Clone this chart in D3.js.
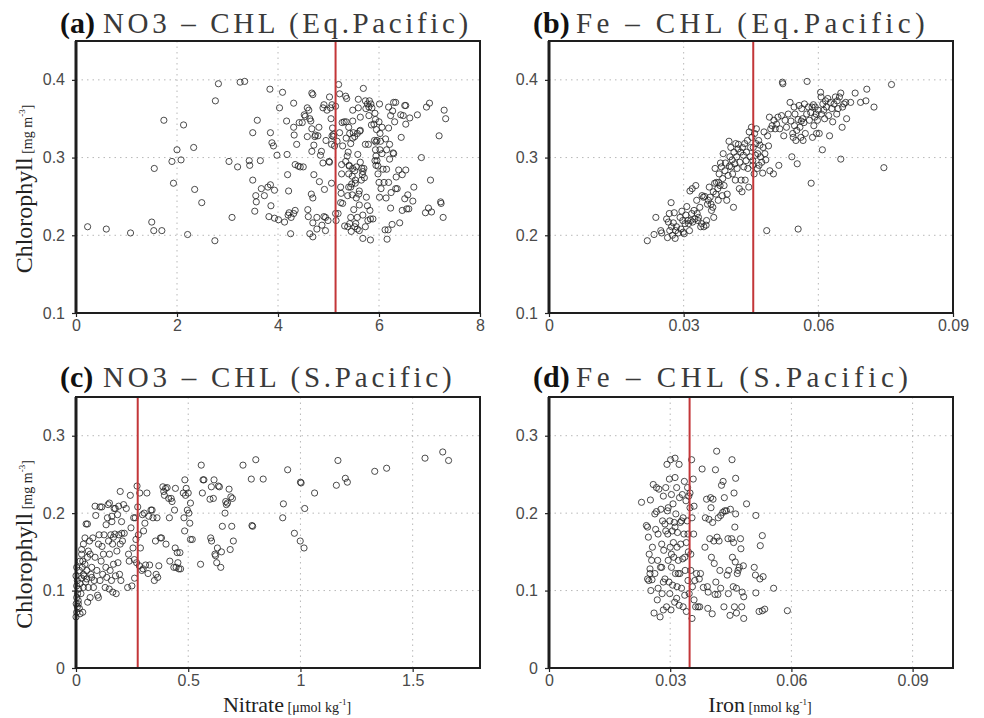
<!DOCTYPE html>
<html>
<head>
<meta charset="utf-8">
<script src="https://cdn.jsdelivr.net/npm/d3@7"></script>
<style>
  body { margin: 0; background: #fff; }
  svg { display: block; }
  .tick text { font-family: "Liberation Sans", sans-serif; font-size: 16px; fill: #4a4a4a; }
  .tick line { stroke: #222; stroke-width: 1.2; }
  .grid { stroke: #b8b8b8; stroke-width: 1; stroke-dasharray: 1.5 4; }
  .dot { fill: none; stroke: #222; stroke-width: 0.95; stroke-opacity: 0.85; }
</style>
</head>
<body>
<svg width="984" height="718"></svg>
<script>
// (a) nitrate vs chlorophyll, equatorial Pacific  [nitrate, chl]
const nitrateEq = [
  [0.23,0.211],[0.6,0.208],[1.08,0.203],[1.5,0.217],[1.54,0.206],[1.7,0.206],[1.55,0.286],[1.74,0.348],
  [1.9,0.295],[1.93,0.267],[2.0,0.31],[2.08,0.297],[2.13,0.342],[2.21,0.201],[2.33,0.313],[2.35,0.259],
  [2.49,0.242],[2.75,0.193],[2.76,0.373],[2.82,0.395],[3.03,0.295],[3.09,0.223],[3.2,0.288],[3.25,0.397],
  [3.34,0.398],[3.43,0.296],[3.44,0.29],[3.5,0.271],[3.5,0.332],[3.54,0.231],[3.56,0.251],[3.57,0.243],
  [3.59,0.348],[3.65,0.296],[3.67,0.26],[3.73,0.251],[3.8,0.262],[3.84,0.388],[3.85,0.332],[3.85,0.265],
  [3.86,0.238],[3.82,0.224],[3.88,0.319],[3.91,0.315],[3.93,0.222],[3.93,0.258],[3.98,0.303],[4.01,0.22],
  [4.03,0.364],[4.09,0.384],[4.13,0.217],[4.17,0.347],[4.18,0.304],[4.19,0.278],[4.21,0.257],[4.2,0.226],
  [4.22,0.229],[4.25,0.202],[4.26,0.223],[4.31,0.37],[4.31,0.339],[4.32,0.329],[4.34,0.291],[4.34,0.232],
  [4.31,0.228],[4.37,0.317],[4.4,0.289],[4.42,0.345],[4.44,0.288],[4.48,0.345],[4.5,0.288],[4.52,0.355],
  [4.54,0.353],[4.58,0.364],[4.59,0.233],[4.58,0.327],[4.6,0.224],[4.61,0.361],[4.63,0.35],[4.63,0.202],
  [4.65,0.347],[4.67,0.383],[4.69,0.381],[4.67,0.337],[4.66,0.253],[4.69,0.248],[4.71,0.316],[4.69,0.216],
  [4.69,0.198],[4.67,0.308],[4.71,0.278],[4.73,0.327],[4.74,0.329],[4.77,0.208],[4.77,0.223],[4.79,0.328],
  [4.81,0.339],[4.84,0.303],[4.82,0.269],[4.86,0.308],[4.87,0.213],[4.89,0.364],[4.89,0.293],[4.91,0.368],
  [4.91,0.224],[4.94,0.223],[4.92,0.259],[4.94,0.206],[4.95,0.322],[4.97,0.361],[4.99,0.219],[5.01,0.295],
  [5.02,0.378],[5.02,0.294],[5.04,0.364],[5.05,0.35],[5.07,0.368],[5.07,0.328],[5.08,0.338],[5.06,0.267],
  [5.06,0.317],[5.1,0.33],[5.1,0.327],[5.12,0.315],[5.14,0.366],[5.14,0.228],[5.15,0.219],[5.17,0.321],
  [5.2,0.394],[5.19,0.228],[5.22,0.382],[5.22,0.332],[5.24,0.262],[5.25,0.254],[5.24,0.242],[5.26,0.291],
  [5.26,0.279],[5.27,0.345],[5.28,0.315],[5.28,0.241],[5.31,0.346],[5.32,0.212],[5.34,0.379],[5.34,0.295],
  [5.35,0.346],[5.35,0.325],[5.36,0.376],[5.37,0.302],[5.38,0.211],[5.38,0.251],[5.39,0.307],[5.4,0.279],
  [5.4,0.339],[5.41,0.29],[5.4,0.262],[5.41,0.289],[5.42,0.215],[5.42,0.331],[5.44,0.262],[5.44,0.318],
  [5.44,0.223],[5.45,0.205],[5.46,0.266],[5.47,0.252],[5.47,0.276],[5.48,0.361],[5.48,0.347],[5.48,0.286],
  [5.49,0.332],[5.48,0.325],[5.5,0.233],[5.52,0.211],[5.52,0.283],[5.52,0.327],[5.53,0.271],[5.53,0.267],
  [5.55,0.288],[5.55,0.248],[5.54,0.215],[5.57,0.331],[5.57,0.223],[5.57,0.208],[5.59,0.375],[5.59,0.364],
  [5.58,0.304],[5.61,0.206],[5.6,0.253],[5.61,0.239],[5.61,0.257],[5.62,0.334],[5.63,0.335],[5.63,0.294],
  [5.63,0.352],[5.65,0.271],[5.66,0.286],[5.67,0.278],[5.68,0.282],[5.68,0.226],[5.68,0.196],[5.69,0.389],
  [5.7,0.286],[5.71,0.274],[5.73,0.373],[5.73,0.317],[5.73,0.211],[5.74,0.363],[5.75,0.249],[5.77,0.369],
  [5.77,0.238],[5.78,0.219],[5.79,0.317],[5.8,0.354],[5.8,0.365],[5.81,0.373],[5.82,0.232],[5.83,0.221],
  [5.83,0.194],[5.84,0.369],[5.85,0.342],[5.86,0.364],[5.88,0.221],[5.9,0.343],[5.91,0.322],[5.92,0.296],
  [5.92,0.357],[5.93,0.31],[5.93,0.349],[5.94,0.32],[5.94,0.29],[5.94,0.302],[5.95,0.336],[5.96,0.296],
  [5.96,0.322],[5.98,0.279],[5.98,0.289],[6.0,0.268],[6.0,0.346],[6.01,0.369],[6.02,0.331],[6.01,0.249],
  [6.02,0.31],[6.03,0.321],[6.04,0.26],[6.06,0.305],[6.06,0.339],[6.08,0.285],[6.1,0.268],[6.12,0.207],
  [6.13,0.324],[6.14,0.248],[6.15,0.31],[6.15,0.285],[6.16,0.195],[6.18,0.207],[6.19,0.365],[6.19,0.338],
  [6.19,0.268],[6.21,0.317],[6.21,0.298],[6.23,0.235],[6.23,0.354],[6.24,0.255],[6.26,0.214],[6.27,0.36],
  [6.28,0.306],[6.29,0.371],[6.29,0.305],[6.31,0.346],[6.33,0.371],[6.33,0.26],[6.34,0.275],[6.36,0.26],
  [6.39,0.284],[6.41,0.216],[6.43,0.355],[6.44,0.326],[6.46,0.278],[6.46,0.232],[6.48,0.354],[6.51,0.247],
  [6.51,0.367],[6.53,0.343],[6.53,0.367],[6.53,0.284],[6.55,0.234],[6.57,0.252],[6.59,0.234],[6.61,0.351],
  [6.67,0.244],[6.69,0.262],[6.76,0.355],[6.84,0.3],[6.92,0.229],[6.94,0.365],[6.98,0.235],[7.0,0.37],
  [7.02,0.271],[7.04,0.23],[7.19,0.328],[7.22,0.243],[7.23,0.241],[7.27,0.223],[7.29,0.361],[7.32,0.35]
];

// (b) iron vs chlorophyll, equatorial Pacific  [iron, chl]
const ironEq = [
  [0.0219,0.193],[0.0234,0.201],[0.0238,0.223],[0.0249,0.206],[0.0251,0.203],[0.0262,0.221],[0.0264,0.197],[0.0266,0.217],
  [0.0268,0.228],[0.0269,0.206],[0.0272,0.242],[0.0273,0.211],[0.0275,0.2],[0.0277,0.216],[0.0279,0.229],[0.0281,0.196],
  [0.0282,0.206],[0.0284,0.211],[0.0288,0.203],[0.0292,0.223],[0.0294,0.208],[0.0296,0.231],[0.0298,0.219],[0.0299,0.204],
  [0.0301,0.202],[0.0303,0.215],[0.0305,0.226],[0.0307,0.237],[0.0309,0.219],[0.0311,0.215],[0.0313,0.206],[0.0314,0.257],
  [0.0316,0.219],[0.0318,0.228],[0.0319,0.26],[0.032,0.217],[0.0323,0.232],[0.0325,0.221],[0.0327,0.264],[0.0329,0.245],
  [0.033,0.228],[0.0332,0.219],[0.0333,0.223],[0.0336,0.236],[0.0338,0.211],[0.034,0.215],[0.0341,0.251],[0.0344,0.249],
  [0.0345,0.211],[0.0347,0.25],[0.035,0.213],[0.0351,0.219],[0.0353,0.24],[0.0355,0.245],[0.0357,0.262],[0.0359,0.249],
  [0.0361,0.24],[0.0362,0.232],[0.0365,0.236],[0.0366,0.256],[0.0367,0.223],[0.0369,0.267],[0.037,0.286],[0.0372,0.253],
  [0.0373,0.268],[0.0376,0.26],[0.0377,0.245],[0.0378,0.268],[0.0379,0.279],[0.0381,0.264],[0.0382,0.293],[0.0384,0.288],
  [0.0386,0.251],[0.0387,0.273],[0.0388,0.305],[0.039,0.264],[0.0392,0.283],[0.0393,0.293],[0.0396,0.245],[0.0397,0.253],
  [0.0399,0.277],[0.0401,0.321],[0.0402,0.289],[0.0403,0.301],[0.0405,0.313],[0.0406,0.288],[0.0408,0.297],[0.0409,0.279],
  [0.0411,0.236],[0.0412,0.307],[0.0414,0.292],[0.0415,0.271],[0.0416,0.318],[0.0418,0.301],[0.0419,0.286],[0.0421,0.311],
  [0.0422,0.317],[0.0424,0.26],[0.0425,0.294],[0.0427,0.307],[0.0428,0.271],[0.043,0.256],[0.0431,0.313],[0.0433,0.303],
  [0.0434,0.288],[0.0436,0.318],[0.0437,0.271],[0.0439,0.296],[0.044,0.307],[0.0442,0.322],[0.0443,0.286],[0.0445,0.262],
  [0.0446,0.333],[0.0448,0.301],[0.0449,0.313],[0.0451,0.339],[0.0452,0.326],[0.0454,0.296],[0.0454,0.29],[0.0455,0.313],
  [0.0457,0.279],[0.0458,0.331],[0.046,0.303],[0.0461,0.318],[0.0462,0.337],[0.0464,0.286],[0.0465,0.305],[0.0467,0.322],
  [0.0468,0.29],[0.047,0.316],[0.0471,0.301],[0.0474,0.294],[0.0476,0.28],[0.0477,0.313],[0.0479,0.333],[0.0481,0.305],
  [0.0483,0.297],[0.0485,0.206],[0.0487,0.328],[0.0489,0.315],[0.0491,0.352],[0.0492,0.283],[0.0494,0.337],[0.0497,0.341],
  [0.05,0.279],[0.0501,0.348],[0.0504,0.337],[0.0507,0.343],[0.051,0.352],[0.0512,0.29],[0.0514,0.337],[0.0518,0.354],
  [0.052,0.397],[0.0521,0.395],[0.0523,0.328],[0.0526,0.348],[0.0529,0.339],[0.0533,0.356],[0.0537,0.371],[0.0539,0.347],
  [0.0541,0.301],[0.0543,0.331],[0.0544,0.326],[0.0546,0.365],[0.0547,0.341],[0.0548,0.356],[0.055,0.322],[0.0552,0.335],
  [0.0553,0.292],[0.0555,0.208],[0.0555,0.349],[0.0557,0.367],[0.0559,0.339],[0.0561,0.326],[0.0562,0.347],[0.0563,0.363],
  [0.0565,0.35],[0.0566,0.322],[0.0568,0.345],[0.0569,0.369],[0.0571,0.331],[0.0574,0.356],[0.0575,0.398],[0.0578,0.365],
  [0.058,0.348],[0.0583,0.358],[0.0584,0.267],[0.0586,0.365],[0.0587,0.326],[0.0589,0.368],[0.059,0.341],[0.0592,0.352],
  [0.0593,0.365],[0.0595,0.356],[0.0596,0.331],[0.0598,0.348],[0.06,0.361],[0.0602,0.331],[0.0605,0.384],[0.0606,0.378],
  [0.0607,0.356],[0.0609,0.31],[0.061,0.369],[0.0612,0.361],[0.0614,0.35],[0.0616,0.373],[0.0618,0.365],[0.0621,0.376],
  [0.0623,0.354],[0.0625,0.328],[0.0627,0.371],[0.063,0.363],[0.0632,0.346],[0.0635,0.369],[0.0638,0.378],[0.0641,0.356],
  [0.0642,0.373],[0.0644,0.363],[0.0647,0.378],[0.065,0.383],[0.065,0.298],[0.0653,0.339],[0.0654,0.365],[0.0657,0.369],
  [0.0661,0.371],[0.0663,0.35],[0.0672,0.371],[0.0682,0.383],[0.0694,0.371],[0.0706,0.373],[0.0708,0.388],[0.0724,0.365],
  [0.0746,0.287],[0.0763,0.394]
];

// (c) nitrate vs chlorophyll, South Pacific  [nitrate, chl]
const nitrateS = [
  [0.0,0.066],[0.003,0.072],[0.006,0.079],[0.001,0.083],[0.01,0.087],[0.003,0.091],[0.007,0.096],[0.015,0.077],
  [0.018,0.07],[0.012,0.102],[0.003,0.106],[0.018,0.109],[0.006,0.113],[0.025,0.116],[0.0,0.119],[0.033,0.121],
  [0.015,0.126],[0.028,0.13],[0.003,0.13],[0.04,0.134],[0.018,0.138],[0.048,0.126],[0.033,0.104],[0.022,0.096],
  [0.01,0.083],[0.03,0.072],[0.025,0.147],[0.051,0.143],[0.045,0.186],[0.051,0.186],[0.055,0.151],[0.06,0.164],
  [0.048,0.115],[0.055,0.104],[0.052,0.085],[0.063,0.091],[0.066,0.121],[0.07,0.13],[0.075,0.168],[0.078,0.104],
  [0.081,0.113],[0.085,0.143],[0.088,0.197],[0.093,0.126],[0.096,0.094],[0.1,0.091],[0.1,0.16],[0.103,0.172],
  [0.107,0.113],[0.112,0.138],[0.115,0.208],[0.116,0.157],[0.119,0.121],[0.122,0.147],[0.125,0.172],[0.13,0.104],
  [0.133,0.13],[0.134,0.185],[0.137,0.117],[0.14,0.194],[0.143,0.211],[0.145,0.164],[0.148,0.102],[0.149,0.147],
  [0.152,0.126],[0.155,0.172],[0.158,0.113],[0.16,0.189],[0.163,0.16],[0.164,0.098],[0.167,0.134],[0.17,0.206],
  [0.173,0.173],[0.176,0.119],[0.179,0.096],[0.182,0.151],[0.185,0.198],[0.187,0.136],[0.19,0.209],[0.191,0.172],
  [0.194,0.121],[0.197,0.228],[0.197,0.16],[0.2,0.113],[0.203,0.189],[0.204,0.174],[0.207,0.164],[0.212,0.211],
  [0.215,0.174],[0.224,0.206],[0.23,0.104],[0.234,0.147],[0.237,0.138],[0.242,0.223],[0.245,0.181],[0.249,0.106],
  [0.254,0.155],[0.257,0.194],[0.26,0.14],[0.261,0.116],[0.264,0.194],[0.267,0.166],[0.27,0.136],[0.272,0.235],
  [0.275,0.208],[0.278,0.172],[0.282,0.132],[0.284,0.226],[0.287,0.155],[0.293,0.126],[0.296,0.198],[0.299,0.128],
  [0.301,0.177],[0.304,0.2],[0.307,0.187],[0.31,0.133],[0.316,0.226],[0.321,0.122],[0.324,0.196],[0.328,0.133],
  [0.334,0.204],[0.339,0.204],[0.343,0.194],[0.349,0.113],[0.354,0.164],[0.357,0.121],[0.361,0.194],[0.364,0.117],
  [0.369,0.132],[0.376,0.168],[0.381,0.168],[0.387,0.234],[0.391,0.228],[0.394,0.223],[0.399,0.232],[0.401,0.16],
  [0.406,0.233],[0.413,0.219],[0.416,0.194],[0.418,0.138],[0.424,0.219],[0.428,0.215],[0.436,0.13],[0.439,0.204],
  [0.442,0.155],[0.443,0.232],[0.446,0.13],[0.451,0.149],[0.454,0.136],[0.458,0.128],[0.463,0.149],[0.466,0.128],
  [0.478,0.226],[0.481,0.194],[0.484,0.177],[0.485,0.243],[0.488,0.223],[0.491,0.232],[0.496,0.204],[0.5,0.226],
  [0.503,0.2],[0.507,0.187],[0.51,0.213],[0.51,0.166],[0.518,0.166],[0.555,0.134],[0.558,0.262],[0.563,0.226],
  [0.566,0.243],[0.57,0.243],[0.597,0.218],[0.6,0.168],[0.603,0.234],[0.604,0.164],[0.612,0.219],[0.615,0.243],
  [0.619,0.147],[0.622,0.145],[0.627,0.136],[0.63,0.155],[0.634,0.235],[0.639,0.234],[0.645,0.13],[0.648,0.15],
  [0.652,0.183],[0.664,0.2],[0.667,0.215],[0.67,0.211],[0.675,0.213],[0.682,0.231],[0.687,0.153],[0.69,0.221],
  [0.694,0.183],[0.697,0.219],[0.701,0.164],[0.744,0.262],[0.781,0.244],[0.784,0.184],[0.787,0.183],[0.801,0.269],
  [0.834,0.244],[0.921,0.194],[0.924,0.212],[0.943,0.256],[0.973,0.174],[0.999,0.164],[1.0,0.24],[1.003,0.239],
  [1.016,0.155],[1.019,0.206],[1.063,0.226],[1.16,0.236],[1.167,0.268],[1.2,0.245],[1.209,0.24],[1.331,0.254],
  [1.384,0.258],[1.555,0.271],[1.634,0.279],[1.66,0.268],
  [0.025,0.153],[0.033,0.16],[0.04,0.168],[0.03,0.138],[0.036,0.119],[0.043,0.111],[0.063,0.147],[0.07,0.117],
  [0.085,0.209],[0.107,0.208],[0.149,0.213],[0.16,0.196],[0.175,0.206],[0.167,0.169]
];

// (d) iron vs chlorophyll, South Pacific  [iron, chl]
const ironS = [
  [0.0229,0.214],[0.0251,0.217],[0.0241,0.184],[0.0244,0.182],[0.0246,0.169],[0.0248,0.147],[0.025,0.128],[0.0244,0.115],
  [0.0247,0.113],[0.0252,0.1],[0.0254,0.139],[0.0256,0.156],[0.0258,0.237],[0.026,0.071],[0.0262,0.122],[0.0264,0.179],
  [0.0266,0.202],[0.0266,0.233],[0.0268,0.088],[0.0269,0.139],[0.027,0.103],[0.0272,0.231],[0.0275,0.066],[0.0276,0.13],
  [0.0277,0.205],[0.0279,0.16],[0.028,0.096],[0.0281,0.19],[0.0283,0.222],[0.0283,0.075],[0.0284,0.152],[0.0287,0.115],
  [0.0289,0.177],[0.0289,0.233],[0.0291,0.079],[0.0292,0.263],[0.0293,0.203],[0.0294,0.173],[0.0295,0.139],[0.0297,0.111],
  [0.0298,0.244],[0.0299,0.19],[0.03,0.156],[0.0301,0.269],[0.0302,0.075],[0.0303,0.224],[0.0303,0.13],[0.0305,0.177],
  [0.0306,0.107],[0.0307,0.212],[0.0308,0.162],[0.0309,0.143],[0.031,0.188],[0.0311,0.085],[0.0312,0.271],[0.0312,0.246],
  [0.0313,0.122],[0.0314,0.199],[0.0316,0.233],[0.0317,0.156],[0.0317,0.105],[0.0318,0.175],[0.032,0.139],[0.0322,0.263],
  [0.0322,0.081],[0.0323,0.22],[0.0324,0.122],[0.0325,0.188],[0.0326,0.16],[0.0328,0.103],[0.033,0.224],[0.0331,0.141],
  [0.0332,0.194],[0.0332,0.079],[0.0334,0.173],[0.0335,0.241],[0.0336,0.094],[0.0337,0.126],[0.0339,0.216],[0.034,0.162],
  [0.034,0.073],[0.0342,0.19],[0.0343,0.233],[0.0344,0.113],[0.0345,0.15],[0.0346,0.222],[0.0347,0.096],[0.0349,0.207],
  [0.0351,0.126],[0.0353,0.269],[0.0354,0.194],[0.0354,0.064],[0.0355,0.105],[0.0357,0.244],[0.0358,0.173],[0.0359,0.209],
  [0.0359,0.088],[0.0361,0.113],[0.0363,0.079],[0.0365,0.122],[0.0369,0.079],[0.0372,0.115],[0.0373,0.079],[0.0375,0.122],
  [0.0379,0.257],[0.0382,0.104],[0.0386,0.156],[0.0387,0.194],[0.039,0.218],[0.0392,0.105],[0.0393,0.077],[0.0394,0.098],
  [0.0396,0.192],[0.0398,0.167],[0.04,0.22],[0.0401,0.207],[0.0402,0.143],[0.0404,0.07],[0.0405,0.188],[0.0406,0.218],
  [0.0408,0.164],[0.0409,0.135],[0.0411,0.095],[0.0412,0.256],[0.0413,0.111],[0.0415,0.28],[0.0416,0.169],[0.0418,0.095],
  [0.0419,0.194],[0.0421,0.164],[0.0423,0.126],[0.0425,0.197],[0.0425,0.103],[0.0427,0.236],[0.043,0.201],[0.0431,0.241],
  [0.0433,0.079],[0.0434,0.22],[0.0435,0.203],[0.0439,0.203],[0.0441,0.12],[0.0443,0.167],[0.0444,0.096],[0.0445,0.126],
  [0.0448,0.068],[0.0449,0.205],[0.0452,0.167],[0.0453,0.269],[0.0454,0.143],[0.0456,0.105],[0.0457,0.162],[0.0458,0.226],
  [0.0459,0.079],[0.046,0.182],[0.0461,0.137],[0.0462,0.245],[0.0462,0.199],[0.0464,0.103],[0.0464,0.071],[0.0466,0.122],
  [0.0468,0.126],[0.0471,0.13],[0.0474,0.167],[0.0475,0.154],[0.0477,0.079],[0.0478,0.098],[0.0481,0.132],[0.0482,0.064],
  [0.0482,0.092],[0.0489,0.212],[0.0508,0.13],[0.0511,0.12],[0.0512,0.097],[0.0512,0.197],[0.0522,0.115],[0.0523,0.158],
  [0.052,0.073],[0.0528,0.171],[0.053,0.118],[0.0528,0.074],[0.0534,0.076],[0.0556,0.103],[0.059,0.074],
  [0.025,0.122],[0.0255,0.114],[0.0262,0.199],[0.027,0.173],[0.0279,0.13],[0.0287,0.186],[0.0295,0.207],[0.0303,0.147],
  [0.0312,0.182],[0.032,0.122],[0.0328,0.19],[0.0336,0.143],[0.0344,0.173],[0.0349,0.226],[0.0351,0.147],[0.0283,0.111],
  [0.0299,0.096],[0.0316,0.09]
];

// threshold lines (red) for panels a-d
const thresholds = [5.14, 0.0455, 0.275, 0.0348];

const xTicksNitrateEq = [0, 2, 4, 6, 8];
const xTicksIron = [0, 0.03, 0.06, 0.09];
const xTicksNitrateS = [0, 0.5, 1, 1.5];
const yTicksEq = [0.1, 0.2, 0.3, 0.4];
const yTicksS = [0, 0.1, 0.2, 0.3];

const panelLetters = ['(a)', '(b)', '(c)', '(d)'];
const panelTitles = ['NO3 – CHL (Eq.Pacific)', 'Fe – CHL (Eq.Pacific)', 'NO3 – CHL (S.Pacific)', 'Fe – CHL (S.Pacific)'];

const svg = d3.select('svg');

const plotWidth = 404;
const cols = [76, 549];
const rows = [{ top: 41, height: 272 }, { top: 397, height: 271 }];

const panels = [
  { points: nitrateEq, xDomain: [0, 8],    yDomain: [0.1, 0.45], xTicks: xTicksNitrateEq, yTicks: yTicksEq, col: 0, row: 0 },
  { points: ironEq,    xDomain: [0, 0.09], yDomain: [0.1, 0.45], xTicks: xTicksIron,      yTicks: yTicksEq, col: 1, row: 0 },
  { points: nitrateS,  xDomain: [0, 1.8],  yDomain: [0, 0.35],   xTicks: xTicksNitrateS,  yTicks: yTicksS,  col: 0, row: 1, xLabel: ['Nitrate', ' [μmol kg', '-1', ']'] },
  { points: ironS,     xDomain: [0, 0.1],  yDomain: [0, 0.35],   xTicks: xTicksIron,      yTicks: yTicksS,  col: 1, row: 1, xLabel: ['Iron', ' [nmol kg', '-1', ']'] }
];

const render = (p, i) => {
  const left = cols[p.col];
  const { top, height } = rows[p.row];

  const xScale = d3.scaleLinear().domain(p.xDomain).range([0, plotWidth]);
  const yScale = d3.scaleLinear().domain(p.yDomain).range([height, 0]);

  const g = svg.append('g').attr('transform', `translate(${left},${top})`);

  // dotted grid
  g.selectAll('.vgrid')
    .data(p.xTicks.filter(d => d > p.xDomain[0] && d < p.xDomain[1]))
    .enter().append('line')
      .attr('class', 'grid')
      .attr('x1', d => xScale(d)).attr('x2', d => xScale(d))
      .attr('y1', 0).attr('y2', height);
  g.selectAll('.hgrid')
    .data(p.yTicks.filter(d => d > p.yDomain[0] && d < p.yDomain[1]))
    .enter().append('line')
      .attr('class', 'grid')
      .attr('x1', 0).attr('x2', plotWidth)
      .attr('y1', d => yScale(d)).attr('y2', d => yScale(d));

  const yAxis = d3.axisLeft(yScale)
    .tickValues(p.yTicks)
    .tickFormat(d => String(d))
    .tickSize(4)
    .tickPadding(7);
  const yAxisG = g.append('g').call(yAxis);
  yAxisG.select('.domain').remove();

  const xAxis = d3.axisBottom(xScale)
    .tickValues(p.xTicks)
    .tickFormat(d => String(d))
    .tickSize(4)
    .tickPadding(3);
  const xAxisG = g.append('g').call(xAxis)
    .attr('transform', `translate(0,${height})`);
  xAxisG.select('.domain').remove();

  g.selectAll('.dot').data(p.points)
    .enter().append('circle')
      .attr('class', 'dot')
      .attr('cx', d => xScale(d[0]))
      .attr('cy', d => yScale(d[1]))
      .attr('r', 3.1);

  g.append('line')
    .attr('x1', xScale(thresholds[i])).attr('x2', xScale(thresholds[i]))
    .attr('y1', 0).attr('y2', height)
    .attr('stroke', '#c33638')
    .attr('stroke-width', 2);

  g.append('rect')
    .attr('width', plotWidth).attr('height', height)
    .attr('fill', 'none')
    .attr('stroke', '#1e1e1e')
    .attr('stroke-width', 2);
  g.append('line')
    .attr('x1', 0).attr('x2', 0).attr('y1', 0).attr('y2', height)
    .attr('stroke', '#1e1e1e').attr('stroke-width', 3);

  // title
  const titleY = p.row === 0 ? -8 : -10;
  g.append('text')
    .attr('x', -16).attr('y', titleY)
    .attr('font-family', '"Liberation Serif", serif')
    .attr('font-weight', 'bold')
    .attr('font-size', 30)
    .attr('fill', '#111')
    .text(panelLetters[i]);
  g.append('text')
    .attr('x', 27).attr('y', titleY)
    .attr('font-family', '"Liberation Serif", serif')
    .attr('font-size', 29)
    .attr('fill', '#3a3a3a')
    .attr('textLength', panelTitles[i].length * 16.6)
    .attr('lengthAdjust', 'spacing')
    .text(panelTitles[i]);

  if (p.col === 0) {
    const yl = g.append('text')
      .attr('transform', `translate(-44,${height / 2 + 12}) rotate(-90)`)
      .attr('text-anchor', 'middle')
      .attr('font-family', '"Liberation Serif", serif')
      .attr('fill', '#222');
    yl.append('tspan').attr('font-size', 24).text('Chlorophyll');
    yl.append('tspan').attr('font-size', 14).text(' [mg m');
    yl.append('tspan').attr('font-size', 9).attr('dy', -7).text('-3');
    yl.append('tspan').attr('font-size', 14).attr('dy', 7).text(']');
  }

  if (p.xLabel) {
    const xl = g.append('text')
      .attr('x', plotWidth / 2 + 9).attr('y', height + 44)
      .attr('text-anchor', 'middle')
      .attr('font-family', '"Liberation Serif", serif')
      .attr('fill', '#222');
    xl.append('tspan').attr('font-size', 22).text(p.xLabel[0]);
    xl.append('tspan').attr('font-size', 14).text(p.xLabel[1]);
    xl.append('tspan').attr('font-size', 9).attr('dy', -7).text(p.xLabel[2]);
    xl.append('tspan').attr('font-size', 14).attr('dy', 7).text(p.xLabel[3]);
  }
};

panels.forEach(render);
</script>
</body>
</html>
